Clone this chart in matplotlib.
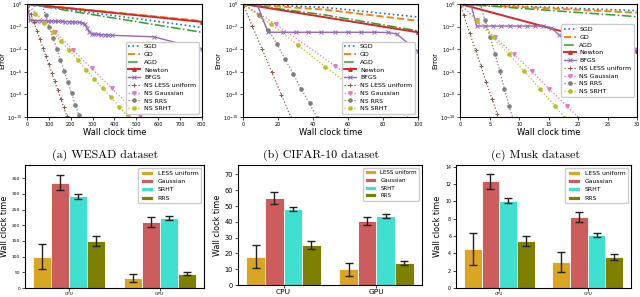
import numpy as np
import matplotlib.pyplot as plt
from matplotlib.ticker import NullLocator

# ---------------- data: top row (time, log10 error) ----------------
methods = ["SGD", "GD", "AGD", "Newton", "BFGS",
           "NS LESS uniform", "NS Gaussian", "NS RRS", "NS SRHT"]

# (a) WESAD
wesad_sgd = ([0, 800], [0, -2.07])
wesad_gd = ([0, 800], [0, -1.5])
wesad_agd = ([0, 800], [0, -2.5])
wesad_newton = ([0, 800], [0, -1.58])
wesad_bfgs = ([0, 14, 30, 46, 62, 78, 94, 110, 126, 142, 158, 174, 190, 206, 222, 238, 254,
               266, 276, 286, 296, 308, 324, 340, 356, 372, 388, 580, 800],
              [0, -1.45, -1.46, -1.47, -1.48, -1.49, -1.5, -1.51, -1.52, -1.53, -1.54, -1.55,
               -1.56, -1.58, -1.6, -1.62, -1.66, -1.8, -2.15, -2.45, -2.62, -2.67, -2.69, -2.71,
               -2.73, -2.75, -2.77, -2.9, -4.0])
wesad_less = ([0, 17, 31, 45, 59, 72, 86, 100, 113, 127, 141, 155, 168, 182, 188],
              [0, -0.88, -1.6, -2.35, -3.1, -3.85, -4.6, -5.35, -6.1, -6.85, -7.6, -8.4, -9.15, -9.9, -10.2])
wesad_gauss = ([0, 128, 210, 296, 387, 516, 530],
               [0, -2.45, -4.05, -5.7, -7.45, -9.9, -10.2])
wesad_rrs = ([0, 34, 68, 85, 102, 119, 136, 153, 170, 187, 204, 221, 238, 244],
             [0, 0, 0, -1.0, -2.0, -3.0, -3.95, -4.95, -5.9, -6.9, -7.9, -8.9, -9.85, -10.2])
wesad_srht = ([0, 38, 80, 118, 155, 194, 232, 270, 307, 346, 384, 422, 462, 470],
              [0, -0.9, -1.65, -2.5, -3.3, -4.1, -4.95, -5.8, -6.65, -7.45, -8.2, -9.1, -9.95, -10.2])

# (b) CIFAR-10
cifar_sgd = ([0, 47, 100], [0, -0.3, -1.15])
cifar_gd = ([0, 47, 100], [0, -0.5, -1.48])
cifar_agd = ([0, 47, 100], [0, -0.97, -2.37])
cifar_newton = ([0, 100], [0, -2.5])
cifar_bfgs = ([0, 8, 14.3, 22.9, 30.5, 37.1, 44.8, 52.4, 60, 67.6, 75.2, 82.9, 88, 100],
              [0, 0, -2.5, -2.5, -2.5, -2.5, -2.5, -2.5, -2.5, -2.5, -2.5, -2.52, -2.65, -4.2])
cifar_less = ([0, 5.3, 10.8, 16.4, 22.0, 27.5],
              [0, -1.95, -3.95, -6.0, -8.05, -10.05])
cifar_gauss = ([0, 19, 52.4, 85.8, 96],
               [0, -1.8, -5.45, -9.05, -10.2])
cifar_rrs = ([0, 9.3, 14.4, 19.4, 24.1, 28.7, 33.4, 38.1, 42.5],
             [0, -0.95, -2.28, -3.52, -4.9, -6.15, -7.55, -8.8, -10.1])
cifar_srht = ([0, 15.8, 31.5, 47.2, 63, 78.7, 86.5],
              [0, -1.78, -3.64, -5.56, -7.45, -9.3, -10.2])

# (c) Musk
musk_sgd = ([0, 30], [0, -0.59])
musk_gd = ([0, 30], [0, -0.77])
musk_agd = ([0, 30], [0, -1.12])
musk_newton = ([0, 30], [0, -4.2])
musk_bfgs = ([0, 1.8, 2.8, 4.2, 5.6, 7.0, 8.5, 9.9, 11.3, 12.7, 14.1, 15.4, 16.7, 17.9, 30],
             [0, 0, -1.95, -1.95, -1.95, -1.95, -1.95, -1.95, -1.95, -1.95, -1.95, -2.1, -2.7, -3.25, -4.0])
musk_less = ([0, 0.6, 1.6, 2.6, 3.5, 4.4, 5.4, 6.3, 6.6],
             [0, -0.95, -2.55, -4.05, -5.45, -6.9, -8.4, -9.75, -10.2])
musk_gauss = ([0, 2.9, 5.9, 9.1, 12.1, 15.1, 18.1, 20.4],
              [0, -1.45, -2.95, -4.45, -5.95, -7.5, -9.05, -10.2])
musk_rrs = ([0, 3.4, 4.2, 5.1, 5.9, 6.7, 7.5, 8.3, 8.95],
            [0, 0, -1.4, -2.95, -4.4, -5.9, -7.5, -9.05, -10.15])
musk_srht = ([0, 2.8, 5.6, 8.2, 10.8, 13.5, 16.1, 17.8],
             [0, -1.5, -2.95, -4.4, -5.9, -7.5, -9.05, -10.1])

# ---------------- data: bottom row (wall clock time) ----------------
sketches = ["LESS uniform", "Gaussian", "SRHT", "RRS"]
devices = ["CPU", "GPU"]

wesad_means = [[100, 31], [335, 210], [292, 222], [151, 46]]
wesad_errs = [[40, 13], [24, 15], [7, 6], [16, 5]]
cifar_means = [[18, 10], [55.3, 40.3], [48.2, 43.8], [25.5, 14]]
cifar_errs = [[7.3, 4], [3.7, 2.5], [1.5, 1.3], [2.6, 1.5]]
musk_means = [[4.5, 3.0], [12.3, 8.2], [10.1, 6.1], [5.4, 3.6]]
musk_errs = [[1.8, 1.2], [0.87, 0.58], [0.33, 0.2], [0.58, 0.35]]

captions = ["(a) WESAD dataset", "(b) CIFAR-10 dataset", "(c) Musk dataset"]

# ---------------- styles ----------------
line_styles = [
    dict(color="#1f77b4", ls=":", lw=1.2),
    dict(color="#ff7f0e", ls="--", lw=1.4),
    dict(color="#2ca02c", ls="-.", lw=1.1),
    dict(color="#d62728", ls="-", lw=1.4, marker="^", ms=2.5),
    dict(color="#9467bd", ls="-", lw=1.0, marker="x", ms=2.3, mew=0.7),
    dict(color="#8c564b", ls=":", lw=0.9, marker="+", ms=2.5, mew=0.7),
    dict(color="#e377c2", ls=":", lw=0.9, marker="v", ms=2.5),
    dict(color="#7f7f7f", ls=":", lw=0.9, marker="o", ms=2.3),
    dict(color="#bcbd22", ls=":", lw=0.9, marker="o", ms=2.3),
]
bar_colors = ["goldenrod", "indianred", "turquoise", "olive"]

fig = plt.figure(figsize=(6.4, 2.97), dpi=100)

top_panels = [
    ([wesad_sgd, wesad_gd, wesad_agd, wesad_newton, wesad_bfgs,
      wesad_less, wesad_gauss, wesad_rrs, wesad_srht], 800, 100, "lower right",
     [0.0422, 0.606, 0.273, 0.3805]),
    ([cifar_sgd, cifar_gd, cifar_agd, cifar_newton, cifar_bfgs,
      cifar_less, cifar_gauss, cifar_rrs, cifar_srht], 100, 20, "lower right",
     [0.3797, 0.606, 0.273, 0.3805]),
    ([musk_sgd, musk_gd, musk_agd, musk_newton, musk_bfgs,
      musk_less, musk_gauss, musk_rrs, musk_srht], 30, 5, "center right",
     [0.719, 0.606, 0.2766, 0.3805]),
]

for series, tmax, tstep, legloc, box in top_panels:
    ax = fig.add_axes(box)
    for name, (t, lg), st in zip(methods, series, line_styles):
        ax.semilogy(t, 10.0 ** np.array(lg), label=name, **st)
    ax.set_xlim(0, tmax)
    ax.set_ylim(1e-10, 1e0)
    ax.set_xticks(np.arange(0, tmax + 1, tstep))
    ax.set_yticks([1e0, 1e-2, 1e-4, 1e-6, 1e-8, 1e-10])
    ax.yaxis.set_minor_locator(NullLocator())
    ax.tick_params(labelsize=3.5, length=2, width=0.5, pad=1.5)
    ax.set_xlabel("Wall clock time", fontsize=6, labelpad=1)
    ax.set_ylabel("Error", fontsize=5, labelpad=1)
    ax.legend(loc=legloc, fontsize=4.5, labelspacing=0.38, borderpad=0.4,
              handlelength=1.9, handletextpad=0.6, framealpha=1)

bottom_panels = [
    (wesad_means, wesad_errs, [0.0391, 0.0303, 0.2797, 0.414], 392, 50, 3.2, 3.2, 4.4),
    (cifar_means, cifar_errs, [0.3719, 0.0404, 0.2875, 0.404], 76, 10, 4.8, 5.4, 4.0),
    (musk_means, musk_errs, [0.7125, 0.0303, 0.2734, 0.414], 14.2, 2, 3.4, 3.0, 4.4),
]

x = np.arange(len(devices))
for means, errs, box, ytop, ystep, yfs, xfs, lfs in bottom_panels:
    ax = fig.add_axes(box)
    for i, (name, m, e, c) in enumerate(zip(sketches, means, errs, bar_colors)):
        ax.bar(x + (i - 1.5) * 0.2, m, 0.2, yerr=e, color=c, label=name,
               edgecolor="white", linewidth=0.6, capsize=3,
               error_kw=dict(elinewidth=1.0, capthick=1.0, ecolor="#222222"))
    ax.set_xticks(x)
    ax.set_xticklabels(devices)
    ax.set_ylim(0, ytop)
    ax.set_yticks(np.arange(0, ytop, ystep))
    ax.tick_params(axis="y", labelsize=yfs, length=2, width=0.5, pad=1.5)
    ax.tick_params(axis="x", labelsize=xfs, length=2, width=0.5, pad=1)
    ax.set_ylabel("Wall clock time", fontsize=5.8, labelpad=2)
    ax.legend(loc="upper right", fontsize=lfs, framealpha=1, labelspacing=0.5)

for cx, cap in zip([0.164, 0.502, 0.836], captions):
    fig.text(cx, 0.478, cap, ha="center", va="center", fontsize=8.6, family="cmr10")

fig.savefig("out.png", dpi=100)
